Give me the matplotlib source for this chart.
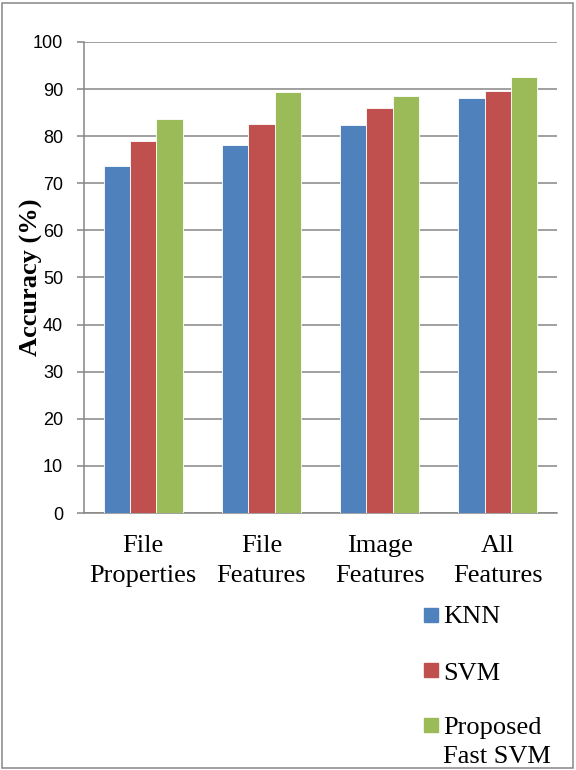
import matplotlib
matplotlib.use("Agg")
import matplotlib.pyplot as plt
import numpy as np
from matplotlib.patches import Rectangle

categories = ["File\nProperties", "File\nFeatures", "Image\nFeatures", "All\nFeatures"]
series_names = ["KNN", "SVM", "Proposed\nFast SVM"]
knn = [73.6, 78.1, 82.3, 88.1]
svm = [79.0, 82.5, 85.9, 89.5]
fast_svm = [83.6, 89.4, 88.5, 92.5]
colors = ["#4F81BD", "#C0504D", "#9BBB59"]
yticks = [0, 10, 20, 30, 40, 50, 60, 70, 80, 90, 100]

fig = plt.figure(figsize=(5.76, 7.7), dpi=100)
ax = fig.add_axes([84/576, 1-513/770, (557-84)/576, (513-42)/770])

x = np.arange(len(categories))
w = 0.222
for i, (vals, c) in enumerate(zip([knn, svm, fast_svm], colors)):
    ax.bar(x + (i-1)*w, vals, width=w, color=c, edgecolor="white", linewidth=0.6, zorder=3)

ax.set_xlim(-0.5, len(categories)-0.5)
ax.set_ylim(0, 100)
ax.set_yticks(yticks)
ax.set_yticklabels([str(v) for v in yticks], fontsize=13, family="Liberation Sans")
ax.yaxis.grid(True, color="#868686", linewidth=1.1, zorder=0)
ax.set_xticks(x)
ax.set_xticklabels(categories, family="Liberation Serif", fontsize=19, linespacing=1.45)
ax.tick_params(axis="x", length=0, pad=16)
ax.tick_params(axis="y", length=5, color="#868686", pad=10, direction="out", width=1.1)
for s in ["top", "right"]:
    ax.spines[s].set_visible(False)
for s in ["left", "bottom"]:
    ax.spines[s].set_color("#868686")
    ax.spines[s].set_linewidth(1.1)
ax.set_ylabel("Accuracy (%)", family="Liberation Serif", fontweight="bold", fontsize=19)
ax.yaxis.set_label_coords((43-84)/473, 0.5)

# legend drawn in figure coordinates
leg_y = [623, 680, 763]  # baselines of last line (px from top)
box_y = [622, 677, 732]  # bottom of square markers
for name, c, yb, bb in zip(series_names, colors, leg_y, box_y):
    fig.patches.append(Rectangle((424/576, 1-bb/770), 14/576, 14/770,
                                 transform=fig.transFigure, color=c))
    fig.text(443/576, 1-yb/770, name, family="Liberation Serif", fontsize=19,
             va="baseline", ha="left", linespacing=1.4)

fig.patches.append(Rectangle((2/576, 2/770), 571/576, 765/770, transform=fig.transFigure,
                             fill=False, edgecolor="#868686", linewidth=1.1))

fig.savefig("out.png", dpi=100)
